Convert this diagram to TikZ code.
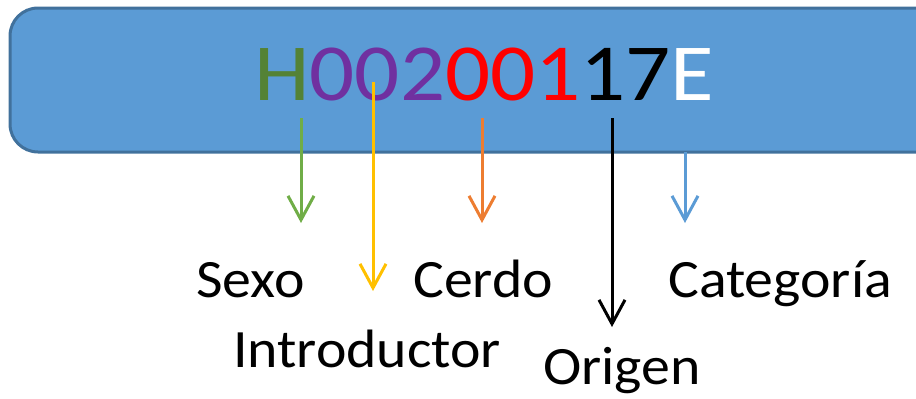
\documentclass[tikz,border=0pt]{standalone}
\usepackage{fontspec}
\setmainfont{Carlito}
\usetikzlibrary{arrows.meta}
\definecolor{boxfill}{HTML}{5B9BD5}
\definecolor{boxline}{HTML}{41719C}
\definecolor{cgreen}{HTML}{548235}
\definecolor{cpurple}{HTML}{7030A0}
\definecolor{agreen}{HTML}{70AD47}
\definecolor{ayellow}{HTML}{FFC000}
\definecolor{aorange}{HTML}{ED7D31}
\newcommand{\lbltext}[1]{\scalebox{1.07}[1]{\fontsize{54}{54}\selectfont #1}}
\tikzset{
  lbl/.style={inner sep=0pt, anchor=base west},
  pointer/.style={line width=3pt, -{Straight Barb[length=24pt,width=26pt,line width=3pt]}},
}
\begin{document}
\begin{tikzpicture}[x=1pt,y=-1pt]
\useasboundingbox (0,0) rectangle (916,399);
\clip (0,0) rectangle (916,399);
\draw[fill=boxfill, draw=boxline, line width=3pt, rounded corners=28pt] (10,8) rectangle (960,152);
\node[inner sep=0pt, anchor=base west] (code) at (254,100)
  {\scalebox{1.10}[1]{\fontsize{81}{81}\selectfont\textcolor{cgreen}{H}\textcolor{cpurple}{002}\textcolor{red}{001}\textcolor{black}{17}\textcolor{white}{E}}};
\node[lbl] (sexo) at (196,297) {\lbltext{Sexo}};
\node[lbl] (cerdo) at (413,297) {\lbltext{Cerdo}};
\node[lbl] (cat) at (668,297) {\lbltext{Categoría}};
\node[lbl] (intro) at (233,367) {\lbltext{Introductor}};
\node[lbl] (orig) at (543,384) {\lbltext{Origen}};
\coordinate (gs) at (301,118); \coordinate (ge) at (301,223);
\coordinate (ys) at (373,82);  \coordinate (ye) at (373,291);
\coordinate (os) at (482,118); \coordinate (oe) at (482,223);
\coordinate (bs) at (612,118); \coordinate (be) at (612,327);
\coordinate (ls) at (685,152); \coordinate (le) at (685,223);
\draw[pointer, agreen] (gs) -- (ge);
\draw[pointer, ayellow] (ys) -- (ye);
\draw[pointer, aorange] (os) -- (oe);
\draw[pointer, black] (bs) -- (be);
\draw[pointer, boxfill] (ls) -- (le);
\end{tikzpicture}
\end{document}
